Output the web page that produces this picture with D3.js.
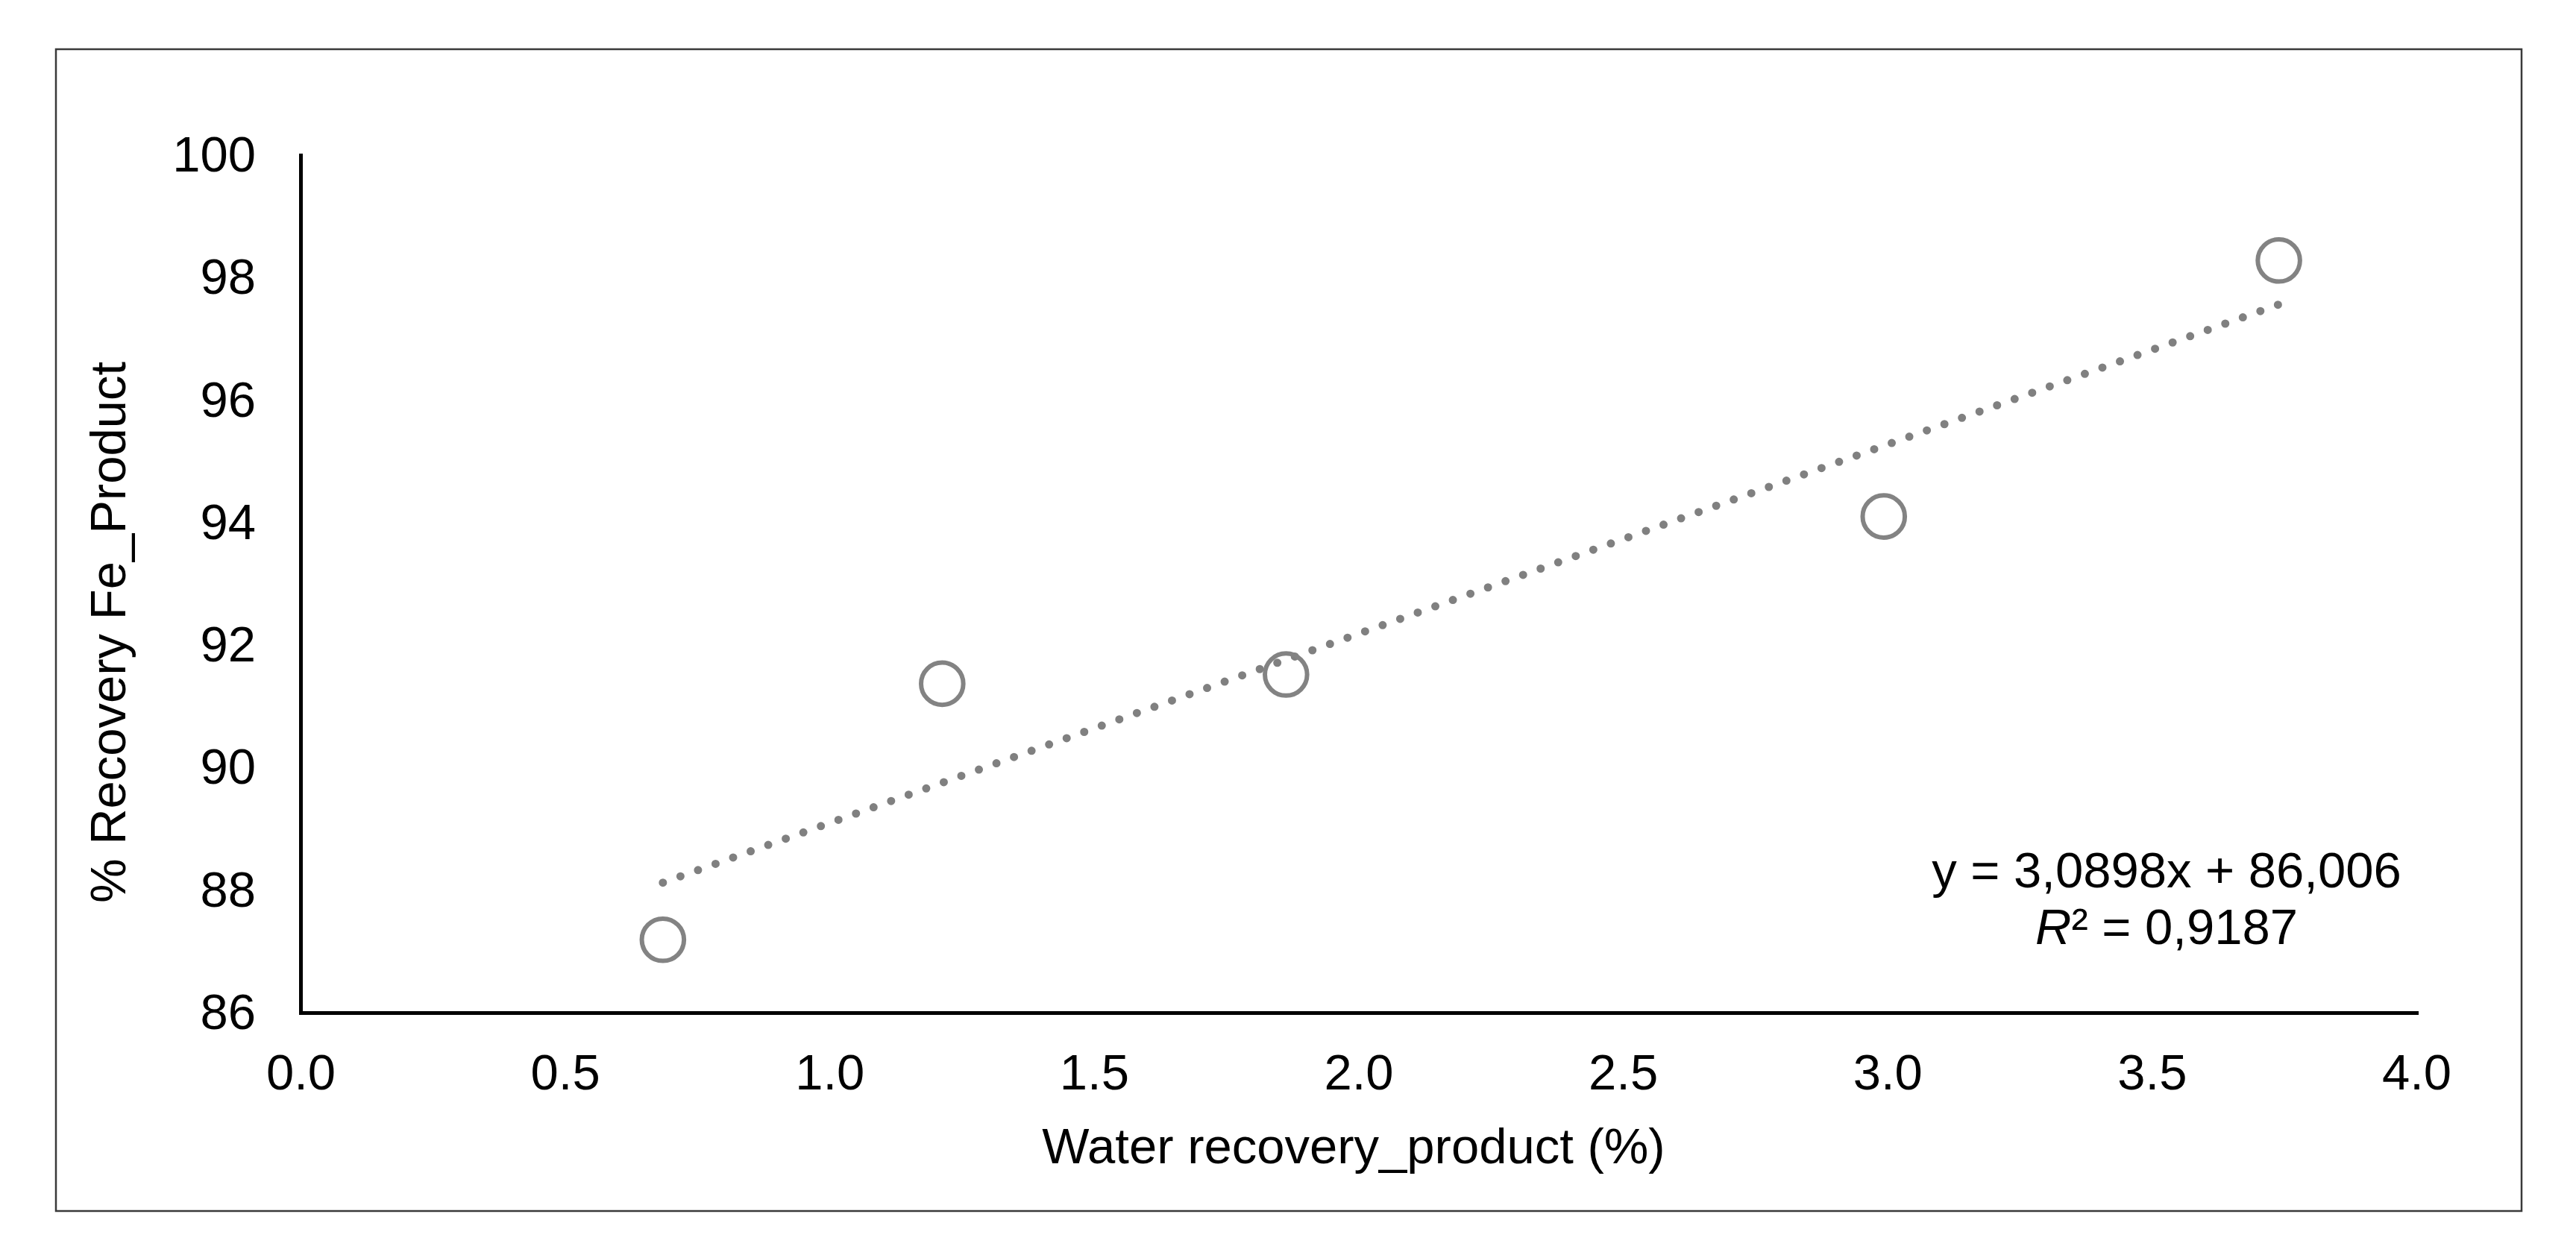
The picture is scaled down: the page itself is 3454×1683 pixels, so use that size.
<!DOCTYPE html>
<html>
<head>
<meta charset="utf-8">
<script src="https://cdn.jsdelivr.net/npm/d3@7"></script>
<style>
  body { margin: 0; background: #fff; }
  text { font-family: "Liberation Sans", Arial, sans-serif; fill: #000; }
</style>
</head>
<body>
<div id="chart"></div>
<script>
// data
const waterRecovery = [0.685, 1.213, 1.863, 2.993, 3.740];
const feRecovery = [87.19, 91.37, 91.52, 94.10, 98.28];
const xTicks = [0, 0.5, 1, 1.5, 2, 2.5, 3, 3.5, 4];
const yTicks = [86, 88, 90, 92, 94, 96, 98, 100];
const trendSlope = 3.0898;
const trendIntercept = 86.006;
const rSquared = 0.9187;

const width = 3454;
const height = 1683;
const margin = {top: 208, right: 214, bottom: 325, left: 403};
const fontSize = "67px";

const svg = d3.select("#chart")
  .append("svg")
  .attr("width", width)
  .attr("height", height);

// outer frame
svg.append("rect")
  .attr("x", 75)
  .attr("y", 66)
  .attr("width", 3306)
  .attr("height", 1558)
  .attr("fill", "none")
  .attr("stroke", "#3a3a3a")
  .attr("stroke-width", 2.5);

const x = d3.scaleLinear()
  .domain([0, 4])
  .range([margin.left, width - margin.right]);

const y = d3.scaleLinear()
  .domain([86, 100])
  .range([height - margin.bottom, margin.top]);

// x axis
const xAxis = svg.append("g")
  .attr("transform", `translate(0, ${y(86)})`)
  .call(d3.axisBottom(x)
    .tickValues(xTicks)
    .tickFormat(d3.format(".1f"))
    .tickSize(0)
    .tickSizeOuter(0)
    .tickPadding(55));

// y axis
const yAxis = svg.append("g")
  .attr("transform", `translate(${x(0)}, 0)`)
  .call(d3.axisLeft(y)
    .tickValues(yTicks)
    .tickFormat(d3.format("d"))
    .tickSize(0)
    .tickSizeOuter(0)
    .tickPadding(60));

[xAxis, yAxis].forEach(function(a) {
  a.select(".domain")
    .attr("stroke", "#000")
    .attr("stroke-width", 5)
    .attr("stroke-linecap", "square");
  a.selectAll("text")
    .style("font-size", fontSize)
    .attr("fill", "#000");
});

// linear trendline, dotted
const xExt = d3.extent(waterRecovery);
svg.append("path")
  .datum(xExt)
  .attr("fill", "none")
  .attr("stroke", "#808080")
  .attr("stroke-width", 11)
  .attr("stroke-linecap", "round")
  .attr("stroke-dasharray", "0 25")
  .attr("d", d3.line()
    .x(function(d) { return x(d); })
    .y(function(d) { return y(trendIntercept + trendSlope * d); }));

// points
svg.append("g")
  .selectAll("circle")
  .data(waterRecovery)
  .join("circle")
  .attr("cx", function(d) { return x(d); })
  .attr("cy", function(d, i) { return y(feRecovery[i]); })
  .attr("r", 28.3)
  .attr("fill", "none")
  .attr("stroke", "#838383")
  .attr("stroke-width", 6);

// axis titles
svg.append("text")
  .attr("x", 1815)
  .attr("y", 1560)
  .attr("text-anchor", "middle")
  .style("font-size", fontSize)
  .text("Water recovery_product (%)");

svg.append("text")
  .attr("transform", "translate(168, 848) rotate(-90)")
  .attr("text-anchor", "middle")
  .style("font-size", fontSize)
  .text("% Recovery Fe_Product");

// equation label
const fmt = function(v) { return String(v).replace(".", ","); };
svg.append("text")
  .attr("x", 2905)
  .attr("y", 1190)
  .attr("text-anchor", "middle")
  .style("font-size", fontSize)
  .text(`y = ${fmt(trendSlope)}x + ${fmt(trendIntercept)}`);

const r2 = svg.append("text")
  .attr("x", 2905)
  .attr("y", 1266)
  .attr("text-anchor", "middle")
  .style("font-size", fontSize);
r2.append("tspan").style("font-style", "italic").text("R");
r2.append("tspan").text(`² = ${fmt(rSquared)}`);
</script>
</body>
</html>
